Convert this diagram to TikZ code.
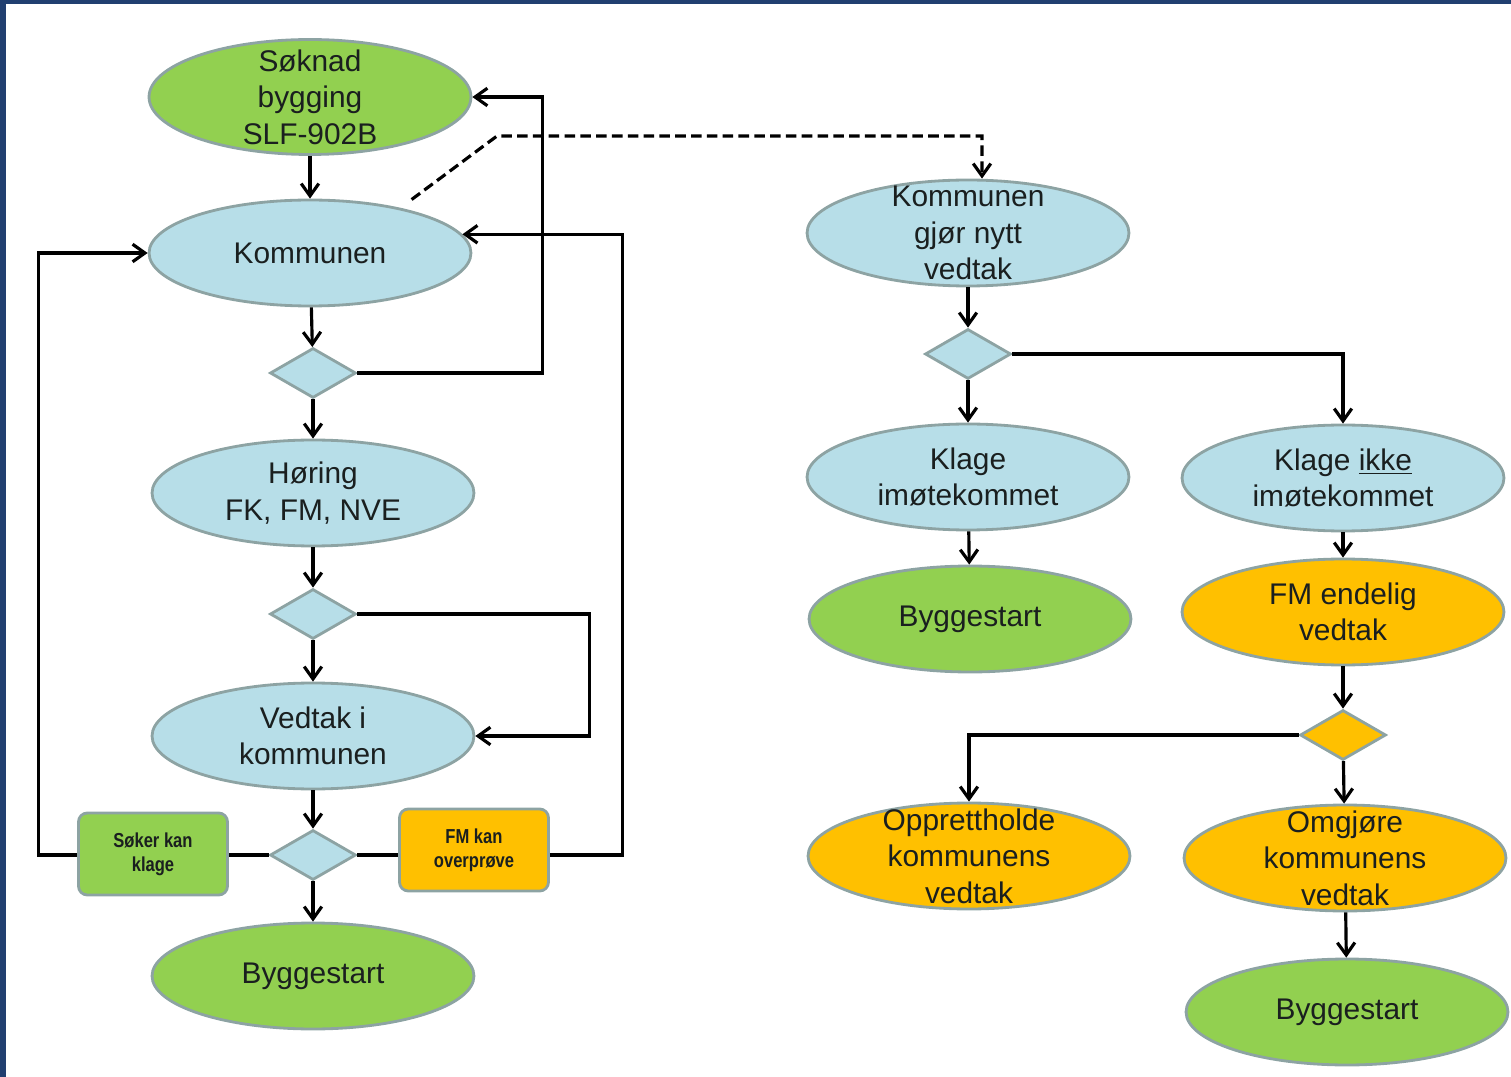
\documentclass[tikz,border=0pt]{standalone}
\usepackage{fontspec}
\setmainfont{Liberation Sans}
\newfontfamily\narrowsans[FakeStretch=0.82]{Liberation Sans}
\usetikzlibrary{shapes.geometric,arrows.meta}

\definecolor{lgreen}{HTML}{92D050}
\definecolor{lblue}{HTML}{B7DEE8}
\definecolor{lorange}{HTML}{FFC000}
\definecolor{rim}{HTML}{8DA3A3}
\definecolor{ink}{HTML}{1A1F1F}
\definecolor{framecol}{HTML}{213F70}

\tikzset{
  oval/.style={ellipse, draw=rim, line width=1.6pt, minimum width=6.44cm, minimum height=2.12cm, inner sep=0pt},
  gate/.style={diamond, draw=rim, line width=1.6pt, fill=lblue, minimum width=1.72cm, minimum height=1cm, aspect=1.7, inner sep=0pt},
  box/.style={rectangle, rounded corners=5pt, draw=rim, line width=1.6pt, minimum width=2.98cm, minimum height=1.64cm,
    align=center, text=ink, font=\narrowsans\bfseries\fontsize{11.5}{13.6}\selectfont},
  every label/.style={align=center, text=ink, font=\fontsize{17}{20.7}\selectfont},
  link/.style={line width=1.8pt},
  heavy/.style={line width=2.6pt}
}

\begin{document}
\begin{tikzpicture}[x=0.02cm, y=-0.02cm, >={Straight Barb[length=7pt,width=10pt]}]
  \useasboundingbox (0,0) rectangle (1511,1077);
  \fill[framecol] (0,0) rectangle (1511,4);
  \fill[framecol] (0,0) rectangle (6,1077);

  % left column
  \node[oval, fill=lgreen, minimum height=2.3cm, label={center:Søknad\\bygging\\SLF-902B}] (soknad) at (310,97) {};
  \node[oval, fill=lblue, label={center:Kommunen}] (kom) at (310,253) {};
  \node[gate] (d1) at (313,373) {};
  \node[oval, fill=lblue, label={center:Høring\\FK, FM, NVE}] (hor) at (313,493) {};
  \node[gate] (d2) at (313,614) {};
  \node[oval, fill=lblue, label={center:Vedtak i\\kommunen}] (ved) at (313,736) {};
  \node[gate] (d3) at (313,855) {};
  \node[oval, fill=lgreen, label={center:Byggestart}] (bygg1) at (313,976) {};
  \node[box, fill=lgreen] (soker) at (153,854) {Søker kan\\klage};
  \node[box, fill=lorange] (fm) at (474,850) {FM kan\\overprøve};

  % right column
  \node[oval, fill=lblue, label={center:Kommunen\\gjør nytt\\vedtak}] (kgn) at (968,233) {};
  \node[gate] (d4) at (968,354) {};
  \node[oval, fill=lblue, label={center:Klage\\imøtekommet}] (kim) at (968,477) {};
  \node[oval, fill=lgreen, label={center:Byggestart}] (bygg2) at (970,619) {};
  \node[oval, fill=lblue, label={center:Klage \underline{ikke}\\imøtekommet}] (kikke) at (1343,478) {};
  \node[oval, fill=lorange, label={center:FM endelig\\vedtak}] (fmv) at (1343,612) {};
  \node[gate, fill=lorange] (d5) at (1343,735) {};
  \node[oval, fill=lorange, label={center:Opprettholde\\kommunens\\vedtak}] (opp) at (969,856) {};
  \node[oval, fill=lorange, label={center:Omgjøre\\kommunens\\vedtak}] (omg) at (1345,858) {};
  \node[oval, fill=lgreen, label={center:Byggestart}] (bygg3) at (1347,1012) {};

  \draw[->, link] (soknad) -- (kom);
  \draw[->, link] (kom) -- (d1);
  \draw[->, link] (d1) -- (hor);
  \draw[->, link] (hor) -- (d2);
  \draw[->, link] (d2) -- (ved);
  \draw[->, link] (ved) -- (d3);
  \draw[->, link] (d3) -- (bygg1);
  \draw[->, link] (d1.east) -- ++(185,0) |- (soknad.east);
  \draw[->, link] (d2.east) -- ++(232,0) |- (ved.east);
  \draw[heavy] (d3.west) -- (d3.west -| soker.east);
  \draw[heavy] (d3.east) -- (d3.east -| fm.west);
  \draw[->, link] (d3.west -| soker.west) -- ++(-39,0) |- (kom.west);
  \draw[->, link] (d3.east -| fm.east) -- ++(73,0) |- (kom.7);
  \draw[->, link, dashed, dash pattern=on 6pt off 3pt] ([shift={(4,-10)}]kom.24) -- (497,136) -| ([xshift=0.28cm]kgn.north);

  \draw[->, link] (kgn) -- (d4);
  \draw[->, link] (d4) -- (kim);
  \draw[->, link] (d4.east) -| (kikke.north);
  \draw[->, link] (kim) -- (bygg2);
  \draw[->, link] (kikke) -- (fmv);
  \draw[->, link] (fmv) -- (d5);
  \draw[->, link] (d5.west) -| (opp.north);
  \draw[->, link] (d5) -- (omg);
  \draw[->, link] (omg) -- (bygg3);
\end{tikzpicture}
\end{document}
